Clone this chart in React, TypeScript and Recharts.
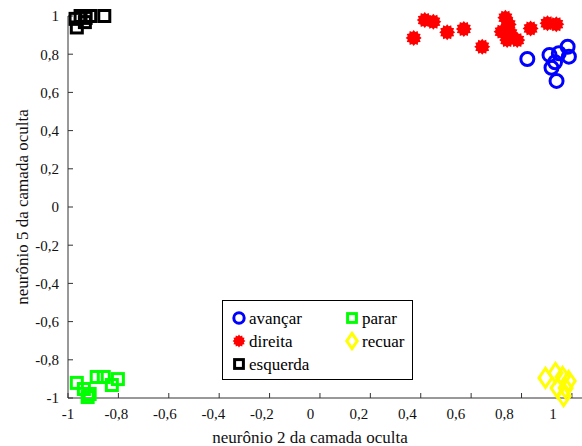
import { ScatterChart, Scatter, XAxis, YAxis } from 'recharts';

const avancar = [
  { x: 0.823, y: 0.775 },
  { x: 0.911, y: 0.796 },
  { x: 0.948, y: 0.805 },
  { x: 0.983, y: 0.839 },
  { x: 0.988, y: 0.787 },
  { x: 0.919, y: 0.729 },
  { x: 0.933, y: 0.758 },
  { x: 0.939, y: 0.66 },
];

const direita = [
  { x: 0.372, y: 0.885 },
  { x: 0.416, y: 0.979 },
  { x: 0.45, y: 0.97 },
  { x: 0.505, y: 0.915 },
  { x: 0.571, y: 0.932 },
  { x: 0.644, y: 0.839 },
  { x: 0.736, y: 0.991 },
  { x: 0.749, y: 0.956 },
  { x: 0.721, y: 0.918 },
  { x: 0.756, y: 0.909 },
  { x: 0.743, y: 0.874 },
  { x: 0.783, y: 0.874 },
  { x: 0.836, y: 0.935 },
  { x: 0.903, y: 0.962 },
  { x: 0.938, y: 0.957 },
];

const esquerda = [
  { x: -0.97, y: 0.985 },
  { x: -0.965, y: 0.94 },
  { x: -0.95, y: 1.0 },
  { x: -0.93, y: 0.99 },
  { x: -0.933, y: 0.968 },
  { x: -0.912, y: 1.0 },
  { x: -0.856, y: 1.0 },
];

const parar = [
  { x: -0.965, y: -0.921 },
  { x: -0.937, y: -0.953 },
  { x: -0.914, y: -0.979 },
  { x: -0.886, y: -0.89 },
  { x: -0.858, y: -0.89 },
  { x: -0.826, y: -0.932 },
  { x: -0.802, y: -0.901 },
  { x: -0.922, y: -0.995 },
];

const recuar = [
  { x: 0.895, y: -0.895 },
  { x: 0.935, y: -0.869 },
  { x: 0.963, y: -0.89 },
  { x: 0.987, y: -0.911 },
  { x: 0.943, y: -0.948 },
  { x: 0.975, y: -0.948 },
  { x: 0.967, y: -0.99 },
];

const ticks = [-1, -0.8, -0.6, -0.4, -0.2, 0, 0.2, 0.4, 0.6, 0.8, 1];

const FONT = "'Liberation Serif', 'DejaVu Serif', serif";
const txt = { fontFamily: FONT };

const fmt = (v: number) => String(Math.round(v * 10) / 10).replace('.', ',');

type MarkerKind = 'circle' | 'square' | 'star' | 'diamond';

function Marker({ kind, cx, cy, color, s = 1 }: { kind: MarkerKind; cx: number; cy: number; color: string; s?: number }) {
  if (kind === 'circle') {
    return <circle cx={cx} cy={cy} r={6.5 * s} fill="none" stroke={color} strokeWidth={3} />;
  }
  if (kind === 'square') {
    const h = 5.5 * s;
    return <rect x={cx - h} y={cy - h} width={2 * h} height={2 * h} fill="none" stroke={color} strokeWidth={3} />;
  }
  if (kind === 'diamond') {
    const w = 6.5 * s;
    const h = 9.5 * s;
    return (
      <polygon
        points={`${cx},${cy - h} ${cx + w},${cy} ${cx},${cy + h} ${cx - w},${cy}`}
        fill="none"
        stroke={color}
        strokeWidth={3}
      />
    );
  }
  const pts: string[] = [];
  const n = 12;
  for (let i = 0; i < n * 2; i++) {
    const r = (i % 2 === 0 ? 8 : 6.2) * s;
    const a = (Math.PI * i) / n;
    pts.push(`${cx + r * Math.cos(a)},${cy + r * Math.sin(a)}`);
  }
  return <polygon points={pts.join(' ')} fill={color} stroke="none" />;
}

const series = [
  { name: 'avançar', data: avancar, kind: 'circle' as MarkerKind, color: '#0000ff' },
  { name: 'direita', data: direita, kind: 'star' as MarkerKind, color: '#ff0000' },
  { name: 'esquerda', data: esquerda, kind: 'square' as MarkerKind, color: '#000000' },
  { name: 'parar', data: parar, kind: 'square' as MarkerKind, color: '#00ff00' },
  { name: 'recuar', data: recuar, kind: 'diamond' as MarkerKind, color: '#ffff00' },
];

// legend order follows the reference: two columns
const legendCells = [
  { name: 'avançar', col: 0, row: 0 },
  { name: 'parar', col: 1, row: 0 },
  { name: 'direita', col: 0, row: 1 },
  { name: 'recuar', col: 1, row: 1 },
  { name: 'esquerda', col: 0, row: 2 },
];

function LegendBox() {
  return (
    <svg width={191} height={80} style={{ display: 'block' }}>
      <rect x={0.5} y={0.5} width={190} height={79} fill="#fff" stroke="#000" strokeWidth={1} />
      {legendCells.map((c) => {
        const s = series.find((d) => d.name === c.name)!;
        const mx = 17 + c.col * 113;
        const my = 18 + c.row * 23;
        return (
          <g key={c.name}>
            <Marker kind={s.kind} cx={mx} cy={my} color={s.color} s={0.8} />
            <text x={mx + 10} y={my} dy="0.35em" style={txt} fontSize={17} fill="#000">
              {c.name}
            </text>
          </g>
        );
      })}
    </svg>
  );
}

function XTick(props: any) {
  const { x, y, payload, index } = props;
  return (
    <text x={x - index * 1.9} y={y} dy="0.71em" textAnchor="middle" style={txt} fontSize={15} fill="#111">
      {fmt(payload.value)}
    </text>
  );
}

function YTick(props: any) {
  const { x, y, payload } = props;
  return (
    <text x={x} y={y} dy="0.355em" textAnchor="end" style={txt} fontSize={15} fill="#111">
      {fmt(payload.value)}
    </text>
  );
}

export default function App() {
  return (
    <div style={{ position: 'absolute', left: 0, top: 0, width: 582, height: 446, background: '#fff' }}>
      <ScatterChart width={582} height={446} margin={{ top: 16, right: 0, bottom: 0, left: 0 }}>
        <XAxis
          type="number"
          dataKey="x"
          domain={[-1, 1.04]}
          ticks={ticks}
          height={48}
          tickSize={-5}
          tickMargin={15}
          stroke="#333"
          tick={<XTick />}
          label={{
            content: () => (
              <text x={310} y={437} dy="0.35em" textAnchor="middle" style={txt} fontSize={17} fill="#111">
                neurônio 2 da camada oculta
              </text>
            ),
          }}
        />
        <YAxis
          type="number"
          dataKey="y"
          domain={[-1, 1]}
          ticks={ticks}
          width={68}
          tickSize={-5}
          tickMargin={14}
          stroke="#333"
          tick={<YTick />}
          label={{
            content: () => (
              <text
                x={22}
                y={207}
                dy="0.35em"
                transform="rotate(-90 22 207)"
                textAnchor="middle"
                style={txt}
                fontSize={17}
                fill="#111"
              >
                neurônio 5 da camada oculta
              </text>
            ),
          }}
        />
        {series.map((s) => (
          <Scatter
            key={s.name}
            name={s.name}
            data={s.data}
            isAnimationActive={false}
            shape={(p: any) => <Marker kind={s.kind} cx={p.cx} cy={p.cy} color={s.color} />}
          />
        ))}
      </ScatterChart>
      <div style={{ position: 'absolute', left: 222, top: 300 }}>
        <LegendBox />
      </div>
    </div>
  );
}
